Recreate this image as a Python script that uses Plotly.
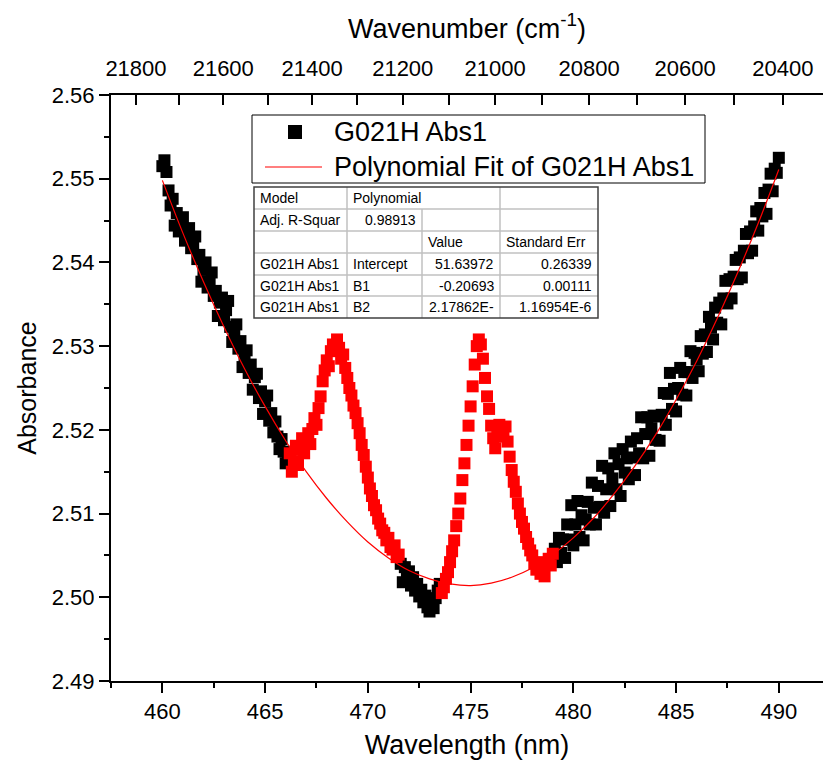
import numpy as np
import plotly.graph_objects as go

# ---------------- data ----------------
wavelength_nm = np.round(np.arange(4600, 4901) / 10.0, 1)  # 460.0 ... 490.0 nm, 0.1 nm step

absorbance = [
    # 460.0 - 466.1
    2.5515, 2.5522, 2.5508, 2.5486, 2.5468, 2.5476, 2.5444, 2.5459, 2.5437, 2.5446,
    2.5454, 2.5426, 2.5434, 2.5441, 2.5417, 2.5423, 2.5431, 2.5404, 2.5409, 2.5377,
    2.5391, 2.5400, 2.5370, 2.5376, 2.5388, 2.5360, 2.5366, 2.5336, 2.5352, 2.5358,
    2.5331, 2.5343, 2.5354, 2.5323, 2.5305, 2.5318, 2.5326, 2.5297, 2.5306, 2.5275,
    2.5287, 2.5295, 2.5268, 2.5278, 2.5248, 2.5263, 2.5267, 2.5238, 2.5246, 2.5219,
    2.5234, 2.5241, 2.5211, 2.5220, 2.5197, 2.5210, 2.5192, 2.5177, 2.5189, 2.5174,
    2.5160, 2.5168,
    # 466.2 - 471.5
    2.5172, 2.5150, 2.5162, 2.5181, 2.5158, 2.5176, 2.5190, 2.5172, 2.5188, 2.5196,
    2.5183, 2.5201, 2.5214, 2.5206, 2.5226, 2.5240, 2.5258, 2.5271, 2.5283, 2.5276,
    2.5294, 2.5302, 2.5296, 2.5308, 2.5298, 2.5285, 2.5290, 2.5274, 2.5262, 2.5250,
    2.5241, 2.5229, 2.5220, 2.5208, 2.5196, 2.5182, 2.5170, 2.5156, 2.5143, 2.5130,
    2.5121, 2.5110, 2.5104, 2.5094, 2.5088, 2.5080, 2.5077, 2.5068, 2.5071, 2.5060,
    2.5057, 2.5062, 2.5048, 2.5051,
    # 471.6 - 473.5
    2.5040, 2.5018, 2.5036, 2.5025, 2.5031, 2.5014, 2.5024, 2.5008, 2.5016, 2.5001,
    2.5009, 2.4994, 2.5002, 2.4988, 2.4983, 2.4992, 2.4987, 2.4999, 2.5008, 2.5016,
    # 473.6 - 479.0
    2.5005, 2.5012, 2.5022, 2.5030, 2.5042, 2.5055, 2.5068, 2.5085, 2.5100, 2.5118,
    2.5140, 2.5160, 2.5182, 2.5205, 2.5228, 2.5252, 2.5278, 2.5300, 2.5308, 2.5302,
    2.5285, 2.5262, 2.5240, 2.5225, 2.5205, 2.5190, 2.5178, 2.5195, 2.5206, 2.5200,
    2.5192, 2.5204, 2.5186, 2.5168, 2.5152, 2.5138, 2.5126, 2.5112, 2.5100, 2.5090,
    2.5082, 2.5072, 2.5064, 2.5056, 2.5050, 2.5040, 2.5033, 2.5042, 2.5028, 2.5036,
    2.5025, 2.5040, 2.5046, 2.5038, 2.5052,
    # 479.1 - 490.0
    2.5058, 2.5042, 2.5071, 2.5053, 2.5069, 2.5047, 2.5087, 2.5069, 2.5110, 2.5062,
    2.5087, 2.5115, 2.5072, 2.5098, 2.5068, 2.5093, 2.5114, 2.5087, 2.5137, 2.5107,
    2.5087, 2.5133, 2.5108, 2.5157, 2.5101, 2.5129, 2.5154, 2.5109, 2.5142, 2.5172,
    2.5129, 2.5159, 2.5121, 2.5177, 2.5149, 2.5166, 2.5141, 2.5186, 2.5167, 2.5146,
    2.5190, 2.5172, 2.5215, 2.5166, 2.5195, 2.5215, 2.5169, 2.5202, 2.5217, 2.5188,
    2.5216, 2.5187, 2.5218, 2.5244, 2.5206, 2.5243, 2.5268, 2.5225, 2.5249, 2.5222,
    2.5250, 2.5274, 2.5242, 2.5269, 2.5241, 2.5269, 2.5294, 2.5262, 2.5292, 2.5284,
    2.5270, 2.5312, 2.5291, 2.5314, 2.5293, 2.5335, 2.5322, 2.5308, 2.5346, 2.5328,
    2.5352, 2.5326, 2.5357, 2.5378, 2.5351, 2.5380, 2.5357, 2.5383, 2.5403, 2.5380,
    2.5406, 2.5382, 2.5414, 2.5434, 2.5411, 2.5437, 2.5414, 2.5443, 2.5461, 2.5438,
    2.5465, 2.5455, 2.5483, 2.5458, 2.5487, 2.5506, 2.5485, 2.5512, 2.5507, 2.5525,
]

# wavelength ranges masked from the fit (plotted red)
masked_ranges_nm = [(466.2, 471.5), (473.6, 479.0)]

# polynomial fit curve
fit_wavelength_nm = [460, 461, 462, 463, 464, 465, 466, 467, 468, 469, 470,
                     471, 472, 473, 474, 475, 476, 477, 478, 479, 480,
                     481, 482, 483, 484, 485, 486, 487, 488, 489, 490]
fit_absorbance = [2.5498, 2.5435, 2.5377, 2.5323, 2.5273, 2.5228, 2.5187, 2.5150, 2.5118, 2.5090, 2.5066,
                  2.5047, 2.5032, 2.5022, 2.5016, 2.5014, 2.5017, 2.5024, 2.5035, 2.5051, 2.5071,
                  2.5095, 2.5124, 2.5157, 2.5194, 2.5236, 2.5282, 2.5333, 2.5388, 2.5447, 2.5511]

# top axis: wavenumbers (cm^-1)
wavenumber_ticks = [21800, 21700, 21600, 21500, 21400, 21300, 21200, 21100,
                    21000, 20900, 20800, 20700, 20600, 20500, 20400]
wavenumber_labelled = [21800, 21600, 21400, 21200, 21000, 20800, 20600, 20400]

# fit results table (rows)
table_rows = [
    ["Model", "Polynomial", None, ""],
    ["Adj. R-Squar", "0.98913", "", ""],
    ["", "", "Value", "Standard Err"],
    ["G021H Abs1", "Intercept", "51.63972", "0.26339"],
    ["G021H Abs1", "B1", "-0.20693", "0.00111"],
    ["G021H Abs1", "B2", "2.17862E-", "1.16954E-6"],
]
table_align = [
    ["left", "left", "left", "left"],
    ["left", "right", "left", "left"],
    ["left", "left", "left", "left"],
    ["left", "left", "right", "right"],
    ["left", "left", "right", "right"],
    ["left", "left", "right", "right"],
]

series_name = "G021H Abs1"
fit_name = "Polynomial Fit of G021H Abs1"

# ---------------- figure ----------------
FONT = "Liberation Sans, Arial, Helvetica, sans-serif"
W, H = 823, 764
ML, MR, MT, MB = 111, 0, 95, 83
PW, PH = W - ML - MR, H - MT - MB


def px_x(px):
    return (px - ML) / PW


def px_y(py):
    return (H - MB - py) / PH


wl = np.asarray(wavelength_nm)
ab = np.asarray(absorbance)
masked = np.zeros(len(wl), dtype=bool)
for lo, hi in masked_ranges_nm:
    masked |= (wl >= lo - 1e-6) & (wl <= hi + 1e-6)

fig = go.Figure()

fig.add_trace(go.Scatter(
    x=wl[~masked], y=ab[~masked], mode="markers", name=series_name, showlegend=False,
    marker=dict(symbol="square", size=12, color="black", line=dict(width=0)),
))
fig.add_trace(go.Scatter(
    x=wl[masked], y=ab[masked], mode="markers", name="masked", showlegend=False,
    marker=dict(symbol="square", size=12, color="#ff0000", line=dict(width=0)),
))
fig.add_trace(go.Scatter(
    x=fit_wavelength_nm, y=fit_absorbance, mode="lines", name=fit_name, showlegend=False,
    line=dict(color="#ff0000", width=1.2, shape="spline"),
))
# invisible trace to register the top (wavenumber) axis
fig.add_trace(go.Scatter(x=[475], y=[2.52], xaxis="x2", mode="markers",
                         marker=dict(opacity=0), showlegend=False, hoverinfo="skip"))

shapes = []
annotations = []

# ---- legend (box, symbols, labels) ----
shapes.append(dict(type="rect", xref="paper", yref="paper", layer="above",
                   x0=px_x(252), x1=px_x(705), y0=px_y(183), y1=px_y(115),
                   line=dict(color="black", width=1), fillcolor="white"))
shapes.append(dict(type="rect", xref="paper", yref="paper", layer="above",
                   x0=px_x(288), x1=px_x(302), y0=px_y(139), y1=px_y(125),
                   line=dict(width=0), fillcolor="black"))
shapes.append(dict(type="line", xref="paper", yref="paper", layer="above",
                   x0=px_x(265), x1=px_x(322), y0=px_y(167), y1=px_y(167),
                   line=dict(color="#ff0000", width=1.2)))
for label, ypx in [(series_name, 132), (fit_name, 167)]:
    annotations.append(dict(text=label, xref="paper", yref="paper",
                            x=px_x(332), y=px_y(ypx), xanchor="left", yanchor="middle",
                            showarrow=False, font=dict(family=FONT, size=27, color="black")))

# ---- table built from shapes + annotations ----
col_edges = [254, 347, 422, 500, 598]
row_edges = [187, 209, 231, 253, 275, 296, 318]
shapes.append(dict(type="rect", xref="paper", yref="paper", layer="above",
                   x0=px_x(col_edges[0]), x1=px_x(col_edges[-1]),
                   y0=px_y(row_edges[-1]), y1=px_y(row_edges[0]),
                   line=dict(width=0), fillcolor="white"))
for r in row_edges[1:-1]:
    shapes.append(dict(type="line", xref="paper", yref="paper", layer="above",
                       x0=px_x(col_edges[0]), x1=px_x(col_edges[-1]),
                       y0=px_y(r), y1=px_y(r), line=dict(color="#c0c0c0", width=1.5)))
for ci, c in enumerate(col_edges[1:-1], start=1):
    for ri in range(len(table_rows)):
        if table_rows[ri][ci] is None:
            continue
        shapes.append(dict(type="line", xref="paper", yref="paper", layer="above",
                           x0=px_x(c), x1=px_x(c),
                           y0=px_y(row_edges[ri + 1]), y1=px_y(row_edges[ri]),
                           line=dict(color="#c0c0c0", width=1.5)))
shapes.append(dict(type="rect", xref="paper", yref="paper", layer="above",
                   x0=px_x(col_edges[0]), x1=px_x(col_edges[-1]),
                   y0=px_y(row_edges[-1]), y1=px_y(row_edges[0]),
                   line=dict(color="#404040", width=1.5), fillcolor="rgba(0,0,0,0)"))
for ri, row in enumerate(table_rows):
    yc = px_y((row_edges[ri] + row_edges[ri + 1]) / 2)
    for ci, txt in enumerate(row):
        if not txt:
            continue
        al = table_align[ri][ci]
        xx = px_x(col_edges[ci] + 4) if al == "left" else px_x(col_edges[ci + 1] - 4)
        annotations.append(dict(text=txt, xref="paper", yref="paper", x=xx, y=yc,
                                xanchor=al, yanchor="middle", showarrow=False,
                                font=dict(family=FONT, size=14, color="black")))

xr = [457.5, 492.15]

fig.update_layout(
    width=W, height=H,
    margin=dict(l=ML, r=MR, t=MT, b=MB),
    paper_bgcolor="white", plot_bgcolor="white",
    font=dict(family=FONT, color="black"),
    showlegend=False,
    xaxis=dict(range=xr, showgrid=False, zeroline=False,
               showline=True, linecolor="black", linewidth=2,
               ticks="outside", ticklen=10, tickwidth=1.5, tickcolor="black",
               tick0=460, dtick=5,
               minor=dict(dtick=2.5, ticklen=5, tickwidth=1.5, tickcolor="black", ticks="outside"),
               tickfont=dict(family=FONT, size=22, color="black"),
               title=dict(text="Wavelength (nm)", standoff=12,
                          font=dict(family=FONT, size=27, color="black"))),
    xaxis2=dict(range=xr, overlaying="x", side="top", anchor="y",
                showgrid=False, zeroline=False,
                showline=True, linecolor="black", linewidth=2,
                tickmode="array",
                tickvals=[1e7 / w for w in wavenumber_ticks],
                ticktext=[str(w) if w in wavenumber_labelled else "" for w in wavenumber_ticks],
                ticks="inside", ticklen=10, tickwidth=1.5, tickcolor="black",
                ticklabelstandoff=8,
                tickfont=dict(family=FONT, size=22, color="black"),
                title=dict(text="Wavenumber (cm<sup>-1</sup>)", standoff=10,
                           font=dict(family=FONT, size=27, color="black"))),
    yaxis=dict(range=[2.49, 2.56], showgrid=False, zeroline=False,
               showline=True, linecolor="black", linewidth=2,
               ticks="outside", ticklen=10, tickwidth=1.5, tickcolor="black",
               dtick=0.01, tick0=2.49, tickformat=".2f",
               minor=dict(dtick=0.005, ticklen=5, tickwidth=1.5, tickcolor="black", ticks="outside"),
               tickfont=dict(family=FONT, size=22, color="black"),
               title=dict(text="Absorbance", standoff=8,
                          font=dict(family=FONT, size=25, color="black"))),
    shapes=shapes,
    annotations=annotations,
)

fig.write_html("out.html")
